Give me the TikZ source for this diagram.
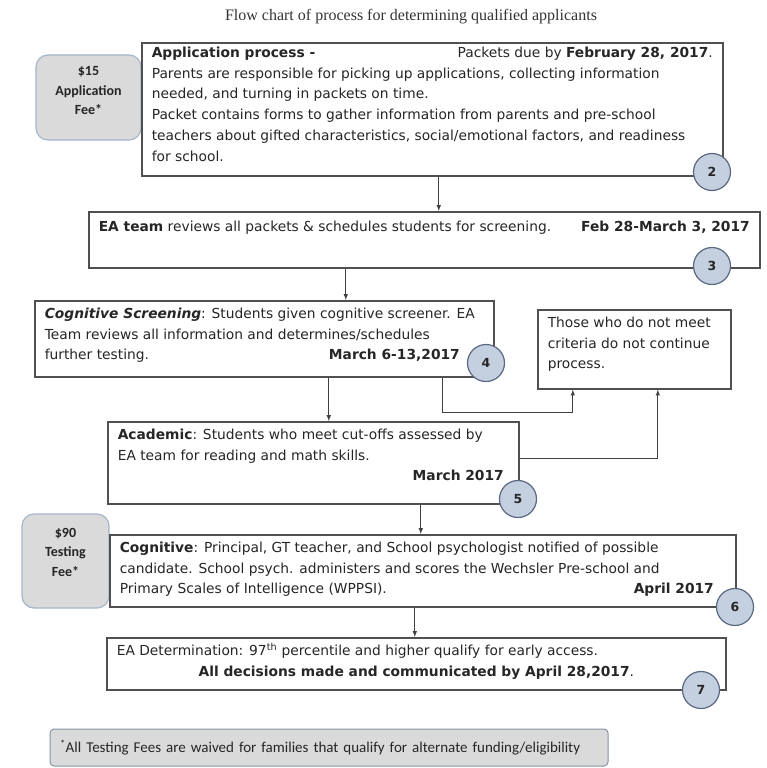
\documentclass[tikz,border=0pt]{standalone}
\usepackage{fontspec}
\setmainfont{Liberation Serif}
\newfontfamily\bodyfont{DejaVu Sans}
\newfontfamily\feefont{Carlito}
\usetikzlibrary{arrows,positioning,calc,shapes}
\tikzset{>=latex}

\definecolor{boxline}{RGB}{80,80,80}
\definecolor{numfill}{RGB}{196,207,224}
\definecolor{numline}{RGB}{90,105,130}
\definecolor{feefill}{RGB}{218,218,218}
\definecolor{feeline}{RGB}{165,182,205}

\newcommand{\rfill}{\hspace*{0pt plus 1filll}}
\newcommand{\boxtext}[3]{\parbox[t][#2][t]{#1}{\raggedright\strut #3}}

\tikzset{
  stepbox/.style={draw=boxline,line width=1.6pt,fill=white,anchor=north west,
    inner xsep=10pt,inner ysep=3pt,text=black!85,
    font=\bodyfont\fontsize{13.8}{20.8}\selectfont},
  fee/.style={draw=feeline,line width=1.2pt,fill=feefill,rounded corners=12pt,
    align=center,text=black!85,font=\feefont\bfseries\fontsize{14}{19.5}\selectfont},
  num/.style={circle,draw=numline,fill=numfill,line width=1.2pt,minimum size=37pt,
    inner sep=0pt,text=black!85,font=\bodyfont\bfseries\fontsize{12.5}{14}\selectfont}
}

\begin{document}
\begin{tikzpicture}[x=1pt,y=-1pt]
\useasboundingbox (0,0) rectangle (766,768);

\node [text=black!80,font=\fontsize{16}{18}\selectfont] (title) at (411,17)
  {Flow chart of process for determining qualified applicants};

% fee boxes (behind the steps)
\node [fee,minimum width=105pt,minimum height=85pt] (fee1) at (88.5,97.5) {\$15\\Application\\Fee*\\[-6pt]};
\node [fee,minimum width=87pt,minimum height=94pt] (fee2) at (65.5,561) {\$90\\Testing\\Fee*\\[-2pt]};

% steps
\node [stepbox,inner ysep=0pt] (app) at (141,42) {\boxtext{561pt}{133pt}{%
  \textbf{Application process -}\rfill Packets due by \textbf{February 28, 2017}.\\
  Parents are responsible for picking up applications, collecting information\\
  needed, and turning in packets on time.\\
  Packet contains forms to gather information from parents and pre-school\\
  teachers about gifted characteristics, social/emotional factors, and readiness\\
  for school.}};
\node [stepbox,inner ysep=5pt] (team) at (88,211) {\boxtext{651pt}{46pt}{%
  \textbf{EA team} reviews all packets \& schedules students for screening.\rfill\textbf{Feb 28-March 3, 2017}}};
\node [stepbox] (screen) at (34,300) {\boxtext{439pt}{70pt}{%
  \textbf{\textit{Cognitive Screening}}: Students given cognitive screener. EA\\
  Team reviews all information and determines/schedules\\
  further testing.\rfill\textbf{March 6-13,2017}\hspace*{24pt}}};
\node [stepbox] (stop) at (537,309) {\boxtext{173pt}{73pt}{%
  Those who do not meet\\
  criteria do not continue\\
  process.}};
\node [stepbox] (acad) at (107,421) {\boxtext{391pt}{76pt}{%
  \textbf{Academic}: Students who meet cut-offs assessed by\\
  EA team for reading and math skills.\\
  \rfill\textbf{March 2017}\hspace*{5pt}}};
\node [stepbox] (cog) at (109,534) {\boxtext{606pt}{66pt}{%
  \textbf{Cognitive}: Principal, GT teacher, and School psychologist notified of possible\\
  candidate. School psych. administers and scores the Wechsler Pre-school and\\
  Primary Scales of Intelligence (WPPSI).\rfill\textbf{April 2017}\hspace*{12pt}}};
\node [stepbox] (final) at (106,637) {\boxtext{599pt}{46pt}{%
  EA Determination: 97\textsuperscript{th} percentile and higher qualify for early access.\\
  \rfill\textbf{All decisions made and communicated by April 28,2017}.\rfill}};

\begin{scope}[line width=1pt,color=black!75]
\draw[->] ([xshift=6.5pt]app.south) -- ([xshift=6.5pt]app.south |- team.north);
\draw[->] ([xshift=-78.5pt]team.south) -- ([xshift=-78.5pt]team.south |- screen.north);
\draw[->] ([xshift=64.5pt]screen.south) -- ([xshift=64.5pt]screen.south |- acad.north);
\draw[->] ([xshift=107.5pt]acad.south) -- ([xshift=107.5pt]acad.south |- cog.north);
\draw[->] ([xshift=-8pt]cog.south) -- ([xshift=-8pt]cog.south |- final.north);
\draw[->] ([xshift=178.5pt]screen.south) -- ++(0,35) -| ([xshift=-61.5pt]stop.south);
\draw[->] ([yshift=4pt]acad.east) -| ([xshift=23.5pt]stop.south);
\end{scope}

% step numbers
\node [num] (n2) at (712,172) {2};
\node [num] (n3) at (712,266) {3};
\node [num] (n4) at (486,363) {4};
\node [num] (n5) at (518,499) {5};
\node [num] (n6) at (735,607) {6};
\node [num] (n7) at (701,690) {7};

\node [draw=feeline!80!black,line width=1pt,fill=feefill,rounded corners=4pt,
  minimum width=558pt,minimum height=37pt,text width=538pt,align=left,
  text=black!85,font=\feefont\fontsize{15}{17}\selectfont] (note) at (329,747.5)
  {\textsuperscript{*}All Testing Fees are waived for families that qualify for alternate funding/eligibility};

\end{tikzpicture}
\end{document}
